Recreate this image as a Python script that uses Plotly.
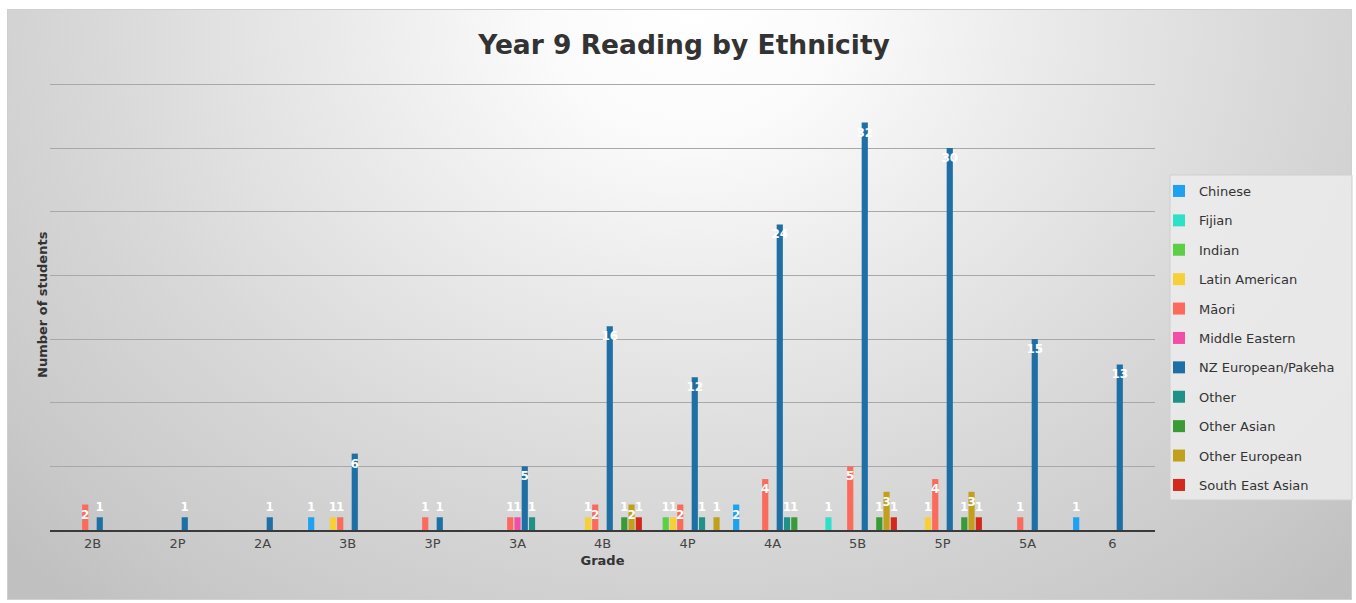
import base64
import plotly.graph_objects as go

# Reading grades (x categories)
grades = ["2B", "2P", "2A", "3B", "3P", "3A", "4B", "4P", "4A", "5B", "5P", "5A", "6"]

# Number of students per ethnicity at each grade (None = no students)
chinese        = [None, None, None, 1, None, None, None, None, 2, None, None, None, 1]
fijian         = [None, None, None, None, None, None, None, None, None, 1, None, None, None]
indian         = [None, None, None, None, None, None, None, 1, None, None, None, None, None]
latin_american = [None, None, None, 1, None, None, 1, 1, None, None, 1, None, None]
maori          = [2, None, None, 1, 1, 1, 2, 2, 4, 5, 4, 1, None]
middle_eastern = [None, None, None, None, None, 1, None, None, None, None, None, None, None]
nz_european    = [1, 1, 1, 6, 1, 5, 16, 12, 24, 32, 30, 15, 13]
other          = [None, None, None, None, None, 1, None, 1, 1, None, None, None, None]
other_asian    = [None, None, None, None, None, None, 1, None, 1, 1, 1, None, None]
other_european = [None, None, None, None, None, None, 2, 1, None, 3, 3, None, None]
south_east_asian = [None, None, None, None, None, None, 1, None, None, 1, 1, None, None]

series = [
    ("Chinese", chinese, "#1da1f2"),
    ("Fijian", fijian, "#2fe0c9"),
    ("Indian", indian, "#5ccf45"),
    ("Latin American", latin_american, "#f7d038"),
    ("Māori", maori, "#fb6a5a"),
    ("Middle Eastern", middle_eastern, "#f24ea7"),
    ("NZ European/Pakeha", nz_european, "#1d6fa5"),
    ("Other", other, "#1f9186"),
    ("Other Asian", other_asian, "#3a9a36"),
    ("Other European", other_european, "#c1a01b"),
    ("South East Asian", south_east_asian, "#d3281c"),
]

FONT = "DejaVu Sans"
W, H = 1356, 603
ML, MR, MT, MB = 50, 201, 22, 73
plot_w = W - ML - MR
plot_h = H - MT - MB


def px_x(px):
    return (px - ML) / plot_w


def px_y(py):
    return (H - MB - py) / plot_h


# Soft radial backdrop for the chart frame
fx0, fy0, fx1, fy1 = 7, 9, 1352, 600
fw, fh = fx1 - fx0, fy1 - fy0
cx, cy = 690 - fx0, 15 - fy0
svg = f"""<svg xmlns='http://www.w3.org/2000/svg' width='{fw}' height='{fh}' viewBox='0 0 {fw} {fh}' preserveAspectRatio='none'>
<defs><radialGradient id='g' gradientUnits='userSpaceOnUse' cx='{cx}' cy='{cy}' r='820'
 gradientTransform='translate({cx} {cy}) scale(1.15 0.95) translate({-cx} {-cy})'>
<stop offset='0' stop-color='#ffffff'/>
<stop offset='0.15' stop-color='#fbfbfb'/>
<stop offset='0.35' stop-color='#ececec'/>
<stop offset='0.62' stop-color='#d9d9d9'/>
<stop offset='0.88' stop-color='#c9c9c9'/>
<stop offset='1' stop-color='#c0c0c0'/>
</radialGradient></defs>
<rect x='0' y='0' width='{fw}' height='{fh}' fill='url(#g)' stroke='#d0d0d0' stroke-width='2'/>
</svg>"""
bg_uri = "data:image/svg+xml;base64," + base64.b64encode(svg.encode()).decode()

fig = go.Figure()
for name, vals, color in series:
    pos = ["none" if v is None else ("inside" if v >= 2 else "outside") for v in vals]
    fig.add_trace(go.Bar(
        name=name,
        x=grades,
        y=vals,
        marker=dict(color=color, line=dict(width=0)),
        texttemplate="<b>%{y}</b>",
        textposition=pos,
        insidetextanchor="end",
        textangle=0,
        constraintext="none",
        cliponaxis=False,
        textfont=dict(family=FONT, size=12, color="white"),
        insidetextfont=dict(family=FONT, size=12, color="white"),
        outsidetextfont=dict(family=FONT, size=12, color="white"),
        legendgroup=name,
        hovertemplate=name + " %{x}: %{y}<extra></extra>",
    ))

fig.add_layout_image(dict(
    source=bg_uri, xref="paper", yref="paper",
    x=px_x(fx0), y=px_y(fy0),
    sizex=fw / plot_w, sizey=fh / plot_h,
    xanchor="left", yanchor="top", sizing="stretch", layer="below",
))

# Legend panel
fig.add_shape(
    type="rect", xref="paper", yref="paper", layer="below",
    x0=px_x(1170), x1=px_x(1352), y0=px_y(500), y1=px_y(175),
    fillcolor="rgba(236,236,236,0.85)", line=dict(color="#cfcfcf", width=1),
)

# Vertical axis title, centred on the frame
fig.add_annotation(
    text="<b>Number of students</b>", textangle=-90,
    xref="paper", yref="paper", x=px_x(42), y=px_y(305),
    xanchor="center", yanchor="middle", showarrow=False,
    font=dict(family=FONT, size=13, color="#333333"),
)

fig.update_layout(
    width=W, height=H,
    margin=dict(l=ML, r=MR, t=MT, b=MB),
    paper_bgcolor="white",
    plot_bgcolor="rgba(0,0,0,0)",
    barmode="group",
    bargap=0.06,
    bargroupgap=0.15,
    font=dict(family=FONT, color="#444444"),
    title=dict(
        text="<b>Year 9 Reading by Ethnicity</b>",
        x=684 / W, xref="container", xanchor="center",
        y=1 - 45 / H, yref="container", yanchor="middle",
        font=dict(family=FONT, size=26.5, color="#333333"),
    ),
    xaxis=dict(
        showgrid=False, showline=True, linecolor="#3a3a3a", linewidth=2,
        ticks="", tickfont=dict(family=FONT, size=13, color="#444444"),
        title=dict(text="<b>Grade</b>", font=dict(family=FONT, size=13, color="#333333"), standoff=6),
    ),
    yaxis=dict(
        range=[0, 39.9], dtick=5, showticklabels=False,
        showgrid=True, gridcolor="#a8a8a8", gridwidth=1, zeroline=False,
    ),
    legend=dict(
        x=px_x(1159), xanchor="left",
        y=px_y(176), yanchor="top",
        bgcolor="rgba(0,0,0,0)", borderwidth=0,
        font=dict(family=FONT, size=13, color="#333333"),
        tracegroupgap=9.5,
        itemwidth=30,
    ),
    showlegend=True,
)

fig.write_html("out.html")
